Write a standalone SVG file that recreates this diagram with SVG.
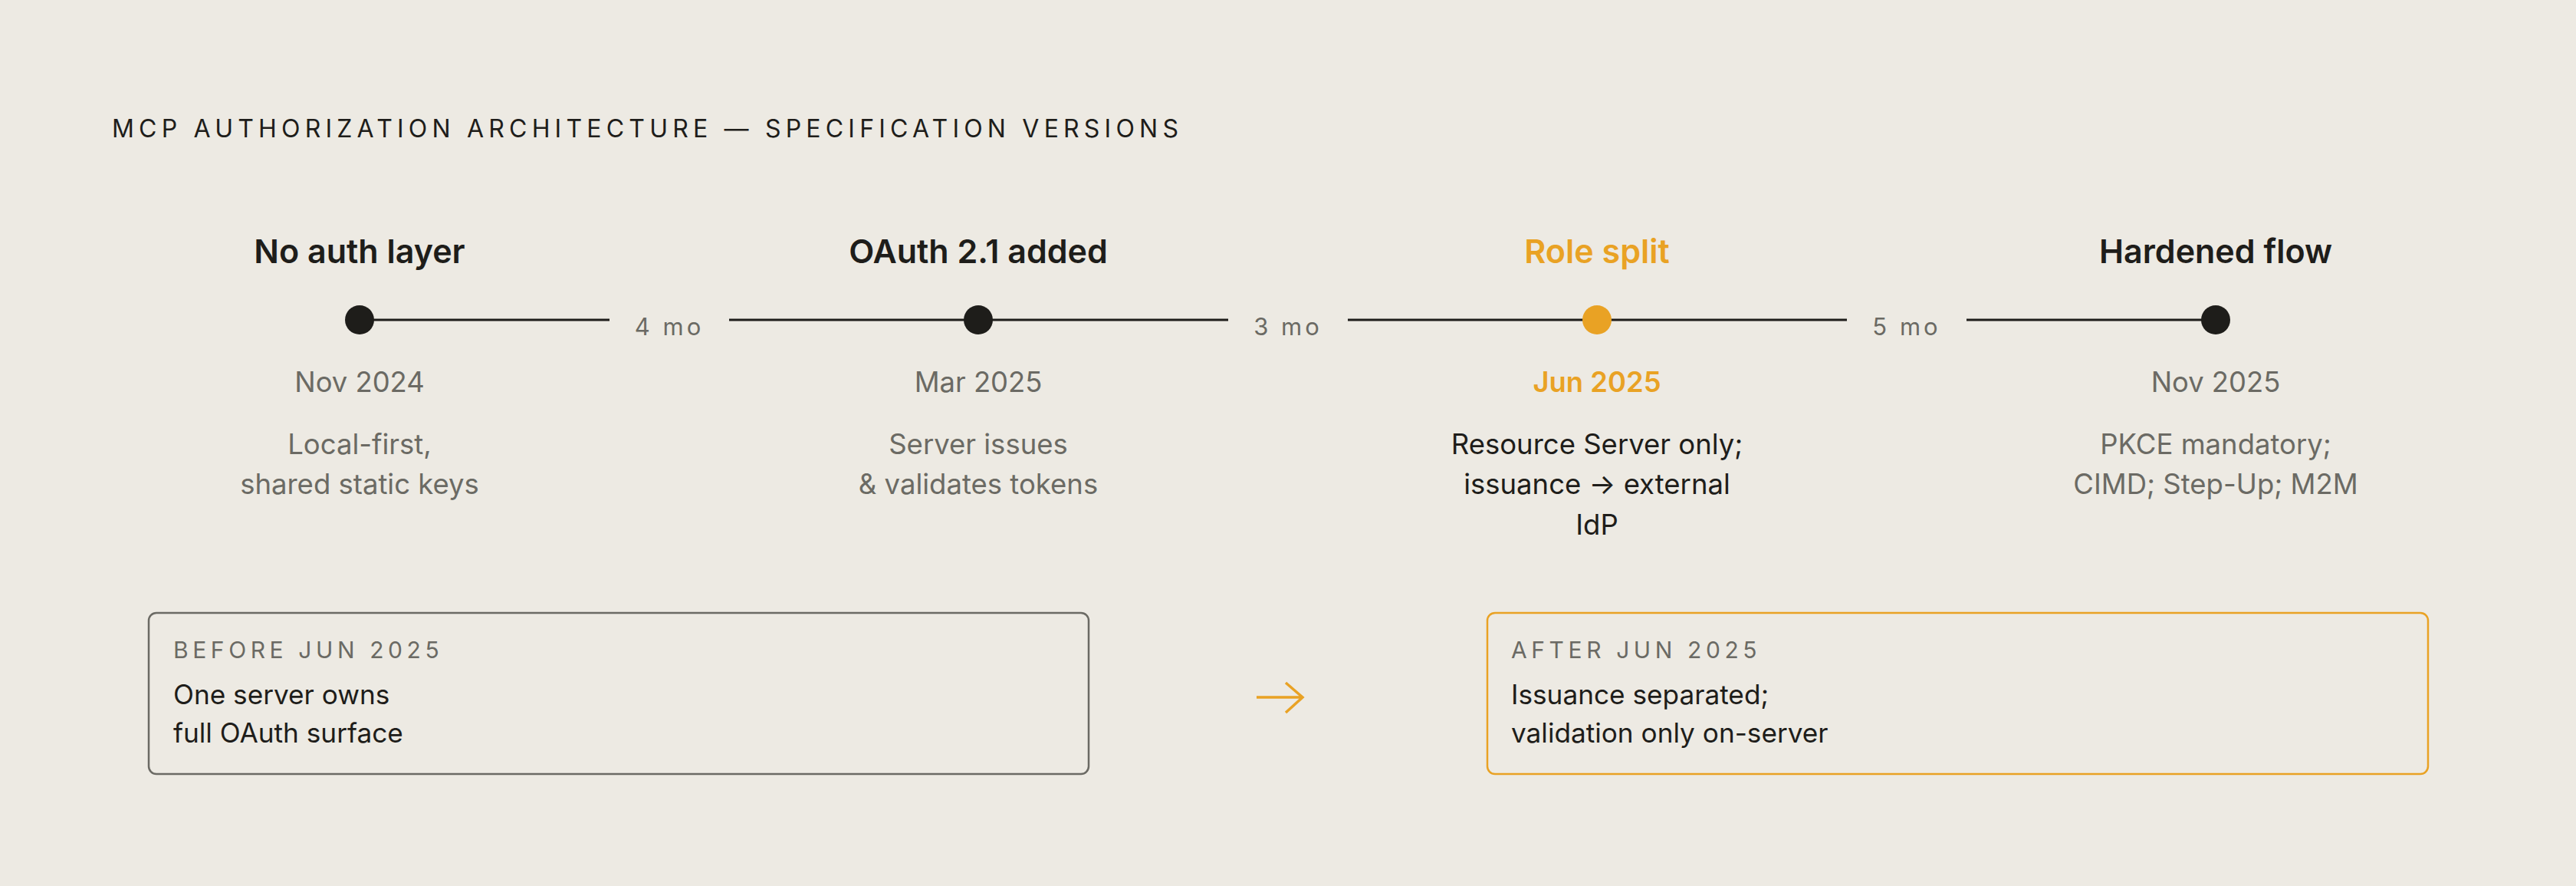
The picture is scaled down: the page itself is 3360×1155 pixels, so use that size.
<svg xmlns="http://www.w3.org/2000/svg" width="3360" height="1155" viewBox="0 0 3360 1155">
<style>
text{font-family:Inter,"DejaVu Sans",sans-serif}
.ttl{font-size:32px;letter-spacing:6.2px;fill:#1e1d1a}
.h{font-size:43px;font-weight:600;fill:#1e1d1a;text-anchor:middle}
.date{font-size:36.4px;fill:#6b6a64;text-anchor:middle}
.desc{font-size:36.5px;fill:#6b6a64;text-anchor:middle}
.dark{fill:#1e1d1a}
.or{fill:#e9a224}
.gap{font-size:31px;fill:#6b6a64;text-anchor:middle;letter-spacing:4px}
.line{stroke:#1e1d1a;stroke-width:3;fill:none}
.kick{font-size:30px;letter-spacing:5.6px;fill:#6b6a64}
.body{font-size:35.2px;fill:#1e1d1a}
.box{fill:none;stroke-width:2.5}
</style>
<rect width="3360" height="1155" fill="#edeae3"/>
<text class="ttl" x="146" y="179">MCP AUTHORIZATION ARCHITECTURE — SPECIFICATION VERSIONS</text>
<g id="connectors">
<line class="line" x1="469" y1="417" x2="795" y2="417"/>
<line class="line" x1="951" y1="417" x2="1602" y2="417"/>
<line class="line" x1="1758" y1="417" x2="2409" y2="417"/>
<line class="line" x1="2565" y1="417" x2="2890" y2="417"/>
<text class="gap" x="873" y="437">4 mo</text>
<text class="gap" x="1680" y="437">3 mo</text>
<text class="gap" x="2487" y="437">5 mo</text>
<path d="M1639 909H1698M1677 890L1699 909L1677 929" stroke="#e9a224" stroke-width="3.5" fill="none"/>
</g>
<g id="n1">
<text class="h" x="469" y="343">No auth layer</text>
<circle cx="469" cy="417" r="19" fill="#1e1d1a"/>
<text class="date" x="469" y="511">Nov 2024</text>
<text class="desc" x="469" y="592">Local-first,</text>
<text class="desc" x="469" y="644">shared static keys</text>
</g>
<g id="n2">
<text class="h" x="1276" y="343">OAuth 2.1 added</text>
<circle cx="1276" cy="417" r="19" fill="#1e1d1a"/>
<text class="date" x="1276" y="511">Mar 2025</text>
<text class="desc" x="1276" y="592">Server issues</text>
<text class="desc" x="1276" y="644">&amp; validates tokens</text>
</g>
<g id="n3">
<text class="h or" x="2083" y="343">Role split</text>
<circle cx="2083" cy="417" r="19" fill="#e9a224"/>
<text class="date or" x="2083" y="511" font-weight="600">Jun 2025</text>
<text class="desc dark" x="2083" y="592">Resource Server only;</text>
<text class="desc dark" x="2083" y="644">issuance → external</text>
<text class="desc dark" x="2083" y="697">IdP</text>
</g>
<g id="n4">
<text class="h" x="2890" y="343">Hardened flow</text>
<circle cx="2890" cy="417" r="19" fill="#1e1d1a"/>
<text class="date" x="2890" y="511">Nov 2025</text>
<text class="desc" x="2890" y="592">PKCE mandatory;</text>
<text class="desc" x="2890" y="644">CIMD; Step-Up; M2M</text>
</g>
<g id="before">
<rect class="box" x="194" y="799" width="1226" height="210" rx="10" stroke="#6b6a64"/>
<text class="kick" x="226" y="858">BEFORE JUN 2025</text>
<text class="body" x="226" y="918">One server owns</text>
<text class="body" x="226" y="968">full OAuth surface</text>
</g>
<g id="after">
<rect class="box" x="1940" y="799" width="1227" height="210" rx="10" stroke="#e9a224"/>
<text class="kick or" x="1971" y="858">AFTER JUN 2025</text>
<text class="body" x="1971" y="918">Issuance separated;</text>
<text class="body" x="1971" y="968">validation only on-server</text>
</g>
</svg>
